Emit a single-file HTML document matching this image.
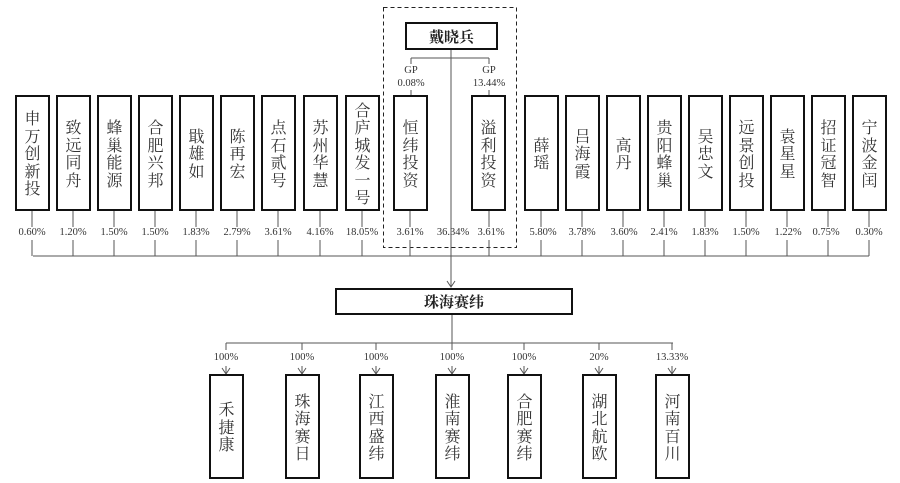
<!DOCTYPE html>
<html><head><meta charset="utf-8"><style>
body{margin:0;width:900px;height:483px;background:#fff;position:relative;overflow:hidden;font-family:"Liberation Serif","Noto Serif CJK SC",serif;}
.b{position:absolute;box-sizing:border-box;border:2px solid #111;background:#fff;display:flex;align-items:center;justify-content:center;}
.v{width:1em;font-size:16px;line-height:17.5px;color:#333;text-align:center;word-break:break-all;font-family:"Noto Serif CJK SC",serif;}
.p{position:absolute;font-size:10.5px;color:#333;transform:translateX(-50%);white-space:nowrap;}
svg{position:absolute;left:0;top:0;}
</style></head><body>
<svg width="900" height="483">
<g stroke="#555" stroke-width="1" fill="none">
<rect x="383.5" y="7.5" width="133" height="240" stroke="#222" stroke-dasharray="4,3"/>
<line x1="33" y1="256" x2="869" y2="256"/>
<path d="M32 211V227M32 240V256M73 211V227M73 240V256M114 211V227M114 240V256M155 211V227M155 240V256M196 211V227M196 240V256M237 211V227M237 240V256M278 211V227M278 240V256M320 211V227M320 240V256M362 211V227M362 240V256M410 211V227M410 240V256M489 211V227M489 240V256M541 211V227M541 240V256M582 211V227M582 240V256M623 211V227M623 240V256M664 211V227M664 240V256M705 211V227M705 240V256M746 211V227M746 240V256M787 211V227M787 240V256M828 211V227M828 240V256M869 211V227M869 240V256"/>
<path d="M451 50V287M411 58H489M411 58V64M489 58V64M411 90V95M489 90V95"/>
<path d="M447 281L451 287L455 281"/>
<path d="M452 315V343M226 343H673"/>
<path d="M226 343V350M302 343V350M376 343V350M452 343V350M524 343V350M599 343V350M672 343V350"/>
<path d="M226 366V374M302 366V374M376 366V374M452 366V374M524 366V374M599 366V374M672 366V374"/>
<path d="M222 368L226 374L230 368M298 368L302 374L306 368M372 368L376 374L380 368M448 368L452 374L456 368M520 368L524 374L528 368M595 368L599 374L603 368M668 368L672 374L676 368"/>
</g>
</svg>
<div class="b" style="left:405px;top:22px;width:93px;height:28px;font-size:15px;font-weight:bold;font-family:'Noto Serif CJK SC',serif;color:#222">戴晓兵</div>
<div class="b" style="left:335px;top:288px;width:238px;height:27px;font-size:15px;font-weight:bold;font-family:'Noto Serif CJK SC',serif;color:#222">珠海赛纬</div>

<div class="b" style="left:15px;top:95px;width:35px;height:116px"><div class="v">申万创新投</div></div>
<div class="b" style="left:56px;top:95px;width:35px;height:116px"><div class="v">致远同舟</div></div>
<div class="b" style="left:97px;top:95px;width:35px;height:116px"><div class="v">蜂巢能源</div></div>
<div class="b" style="left:138px;top:95px;width:35px;height:116px"><div class="v">合肥兴邦</div></div>
<div class="b" style="left:179px;top:95px;width:35px;height:116px"><div class="v">戢雄如</div></div>
<div class="b" style="left:220px;top:95px;width:35px;height:116px"><div class="v">陈再宏</div></div>
<div class="b" style="left:261px;top:95px;width:35px;height:116px"><div class="v">点石贰号</div></div>
<div class="b" style="left:303px;top:95px;width:35px;height:116px"><div class="v">苏州华慧</div></div>
<div class="b" style="left:345px;top:95px;width:35px;height:116px"><div class="v">合庐城发一号</div></div>
<div class="b" style="left:393px;top:95px;width:35px;height:116px"><div class="v">恒纬投资</div></div>
<div class="b" style="left:471px;top:95px;width:35px;height:116px"><div class="v">溢利投资</div></div>
<div class="b" style="left:524px;top:95px;width:35px;height:116px"><div class="v">薛瑶</div></div>
<div class="b" style="left:565px;top:95px;width:35px;height:116px"><div class="v">吕海霞</div></div>
<div class="b" style="left:606px;top:95px;width:35px;height:116px"><div class="v">高丹</div></div>
<div class="b" style="left:647px;top:95px;width:35px;height:116px"><div class="v">贵阳蜂巢</div></div>
<div class="b" style="left:688px;top:95px;width:35px;height:116px"><div class="v">吴忠文</div></div>
<div class="b" style="left:729px;top:95px;width:35px;height:116px"><div class="v">远景创投</div></div>
<div class="b" style="left:770px;top:95px;width:35px;height:116px"><div class="v">袁星星</div></div>
<div class="b" style="left:811px;top:95px;width:35px;height:116px"><div class="v">招证冠智</div></div>
<div class="b" style="left:852px;top:95px;width:35px;height:116px"><div class="v">宁波金闰</div></div>

<div class="p" style="left:411px;top:64px;text-align:center;line-height:13px">GP<br>0.08%</div>
<div class="p" style="left:489px;top:64px;text-align:center;line-height:13px">GP<br>13.44%</div>

<div class="p" style="left:32px;top:227px">0.60%</div>
<div class="p" style="left:73px;top:227px">1.20%</div>
<div class="p" style="left:114px;top:227px">1.50%</div>
<div class="p" style="left:155px;top:227px">1.50%</div>
<div class="p" style="left:196px;top:227px">1.83%</div>
<div class="p" style="left:237px;top:227px">2.79%</div>
<div class="p" style="left:278px;top:227px">3.61%</div>
<div class="p" style="left:320px;top:227px">4.16%</div>
<div class="p" style="left:362px;top:227px">18.05%</div>
<div class="p" style="left:410px;top:227px">3.61%</div>
<div class="p" style="left:453px;top:227px">36.34%</div>
<div class="p" style="left:491px;top:227px">3.61%</div>
<div class="p" style="left:543px;top:227px">5.80%</div>
<div class="p" style="left:582px;top:227px">3.78%</div>
<div class="p" style="left:624px;top:227px">3.60%</div>
<div class="p" style="left:664px;top:227px">2.41%</div>
<div class="p" style="left:705px;top:227px">1.83%</div>
<div class="p" style="left:746px;top:227px">1.50%</div>
<div class="p" style="left:788px;top:227px">1.22%</div>
<div class="p" style="left:826px;top:227px">0.75%</div>
<div class="p" style="left:869px;top:227px">0.30%</div>

<div class="p" style="left:226px;top:352px">100%</div>
<div class="p" style="left:302px;top:352px">100%</div>
<div class="p" style="left:376px;top:352px">100%</div>
<div class="p" style="left:452px;top:352px">100%</div>
<div class="p" style="left:524px;top:352px">100%</div>
<div class="p" style="left:599px;top:352px">20%</div>
<div class="p" style="left:672px;top:352px">13.33%</div>

<div class="b" style="left:209px;top:374px;width:35px;height:105px"><div class="v">禾捷康</div></div>
<div class="b" style="left:285px;top:374px;width:35px;height:105px"><div class="v">珠海赛日</div></div>
<div class="b" style="left:359px;top:374px;width:35px;height:105px"><div class="v">江西盛纬</div></div>
<div class="b" style="left:435px;top:374px;width:35px;height:105px"><div class="v">淮南赛纬</div></div>
<div class="b" style="left:507px;top:374px;width:35px;height:105px"><div class="v">合肥赛纬</div></div>
<div class="b" style="left:582px;top:374px;width:35px;height:105px"><div class="v">湖北航欧</div></div>
<div class="b" style="left:655px;top:374px;width:35px;height:105px"><div class="v">河南百川</div></div>
</body></html>
